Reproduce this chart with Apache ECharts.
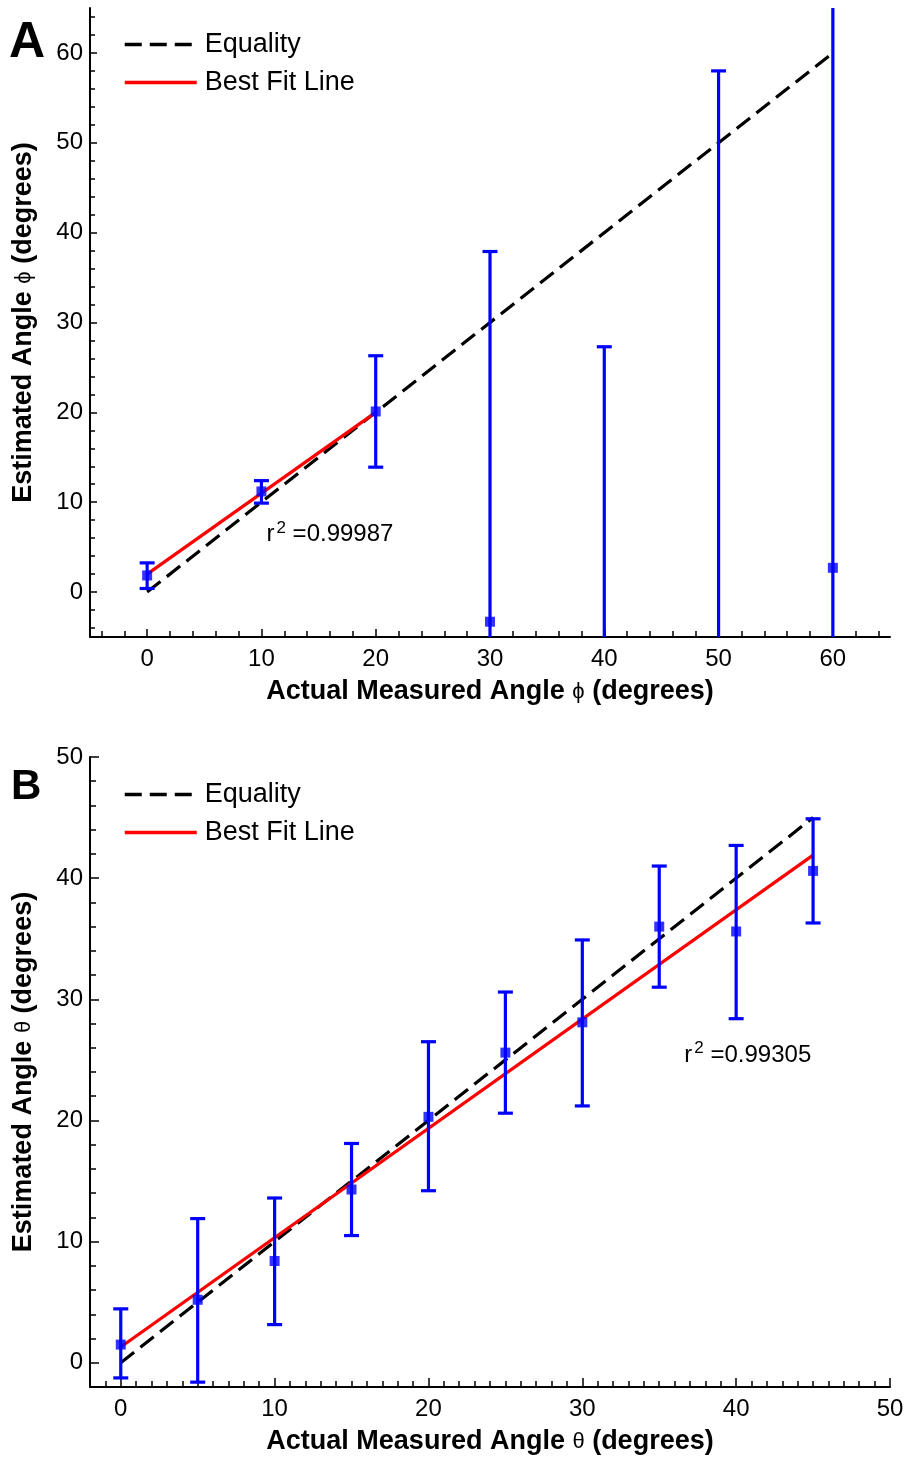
<!DOCTYPE html>
<html>
<head>
<meta charset="utf-8">
<script src="https://cdn.jsdelivr.net/npm/echarts@6/dist/echarts.min.js"></script>
<style>
  html, body { margin: 0; padding: 0; background: #fff; }
  #chart { width: 910px; height: 1461px; }
</style>
</head>
<body>
<div id="chart"></div>
<script>
// ---------- Panel A data (phi) ----------
const phiActual = [0, 10, 20, 30, 40, 50, 60];
const phiMean   = [1.85, 11.2, 20.1, -3.3, -20, -10, 2.7];
const phiUpper  = [3.25, 12.4, 26.3, 37.9, 27.3, 58, 80];
const phiLower  = [0.4, 9.9, 13.9, -44.5, -67, -78, -75];
const phiEquality = [[0, 0], [60, 60]];
const phiFit      = [[0, 2.0], [20, 20.0]];
const phiR2Text = '0.99987';
const phiR2Pos  = [10.4, 6.4];

// ---------- Panel B data (theta) ----------
const thetaActual = [0, 5, 10, 15, 20, 25, 30, 35, 40, 45];
const thetaMean   = [1.5, 5.2, 8.4, 14.3, 20.3, 25.6, 28.1, 36.0, 35.6, 40.6];
const thetaUpper  = [4.45, 11.9, 13.6, 18.1, 26.5, 30.6, 34.9, 41.0, 42.7, 44.9];
const thetaLower  = [-1.25, -1.6, 3.15, 10.5, 14.2, 20.6, 21.2, 31.0, 28.4, 36.3];
const thetaEquality = [[0, 0], [45, 45]];
const thetaFit      = [[0, 1.3], [45, 41.9]];
const thetaR2Text = '0.99305';
const thetaR2Pos  = [36.6, 25.4];

// ---------- Axis ranges & ticks ----------
const aRange = { min: -5, max: 65 };
const aMajor = [0, 10, 20, 30, 40, 50, 60];
const aMinor = [-4, -2, 2, 4, 6, 8, 12, 14, 16, 18, 22, 24, 26, 28, 32, 34, 36, 38, 42, 44, 46, 48, 52, 54, 56, 58, 62, 64];

const bxRange = { min: -2, max: 50 };
const bxMajor = [0, 10, 20, 30, 40, 50];
const bxMinor = [-1, 1, 2, 3, 4, 5, 6, 7, 8, 9, 11, 12, 13, 14, 15, 16, 17, 18, 19, 21, 22, 23, 24, 25, 26, 27, 28, 29,
                 31, 32, 33, 34, 35, 36, 37, 38, 39, 41, 42, 43, 44, 45, 46, 47, 48, 49];
const byRange = { min: -2, max: 50 };
const byMajor = [0, 10, 20, 30, 40, 50];
const byMinor = [2, 4, 6, 8, 12, 14, 16, 18, 22, 24, 26, 28, 32, 34, 36, 38, 42, 44, 46, 48];

const FONT = '"Liberation Sans", Arial, Helvetica, sans-serif';
const BLUE = '#0000ff';
const DASH = [17, 8];

function zip3(a, b, c) { return a.map((v, i) => [v, b[i], c[i]]); }
function zip2(a, b) { return a.map((v, i) => [v, b[i]]); }

function makeErrorRender(yr) {
  return function (params, api) {
    const x = api.value(0);
    const lo = api.value(1), hi = api.value(2);
    const loC = Math.max(lo, yr.min), hiC = Math.min(hi, yr.max);
    const pTop = api.coord([x, hiC]);
    const pBot = api.coord([x, loC]);
    const style = { stroke: BLUE, lineWidth: 3.2 };
    const hw = 7.5;
    const children = [{ type: 'line', shape: { x1: pTop[0], y1: pTop[1], x2: pBot[0], y2: pBot[1] }, style }];
    if (hi <= yr.max) children.push({ type: 'line', shape: { x1: pTop[0] - hw, y1: pTop[1], x2: pTop[0] + hw, y2: pTop[1] }, style });
    if (lo >= yr.min) children.push({ type: 'line', shape: { x1: pBot[0] - hw, y1: pBot[1], x2: pBot[0] + hw, y2: pBot[1] }, style });
    return { type: 'group', children };
  };
}

const nameStyle = {
  color: '#000', fontSize: 27, fontWeight: 'bold', fontFamily: FONT,
  rich: { p: { fontSize: 22, fontWeight: 'normal', fontFamily: FONT, color: '#000' } }
};

function mainXAxis(gridIndex, range, major, name, tickLen) {
  return {
    type: 'value', gridIndex, min: range.min, max: range.max, position: 'bottom',
    axisLine: { show: true, onZero: false, lineStyle: { color: '#000', width: 2 } },
    axisTick: { show: true, inside: true, length: tickLen, customValues: major, lineStyle: { color: '#000', width: 1.5 } },
    axisLabel: { show: true, customValues: major, margin: 10, color: '#000', fontSize: 24, fontFamily: FONT },
    splitLine: { show: false },
    name, nameLocation: 'middle', nameGap: 41,
    nameTextStyle: nameStyle
  };
}
function minorXAxis(gridIndex, range, minor, tickLen) {
  return {
    type: 'value', gridIndex, min: range.min, max: range.max, position: 'bottom',
    axisLine: { show: false, onZero: false },
    axisTick: { show: true, inside: true, length: tickLen, customValues: minor, lineStyle: { color: '#000', width: 1.5 } },
    axisLabel: { show: false },
    splitLine: { show: false }
  };
}
function mainYAxis(gridIndex, range, major, name, tickLen) {
  return {
    type: 'value', gridIndex, min: range.min, max: range.max, position: 'left',
    axisLine: { show: true, onZero: false, lineStyle: { color: '#000', width: 2 } },
    axisTick: { show: true, inside: true, length: tickLen, customValues: major, lineStyle: { color: '#000', width: 1.5 } },
    axisLabel: { show: true, customValues: major, margin: 7, color: '#000', fontSize: 24, fontFamily: FONT },
    splitLine: { show: false },
    name, nameLocation: 'middle', nameGap: 53,
    nameTextStyle: nameStyle
  };
}
function minorYAxis(gridIndex, range, minor, tickLen) {
  return {
    type: 'value', gridIndex, min: range.min, max: range.max, position: 'left',
    axisLine: { show: false, onZero: false },
    axisTick: { show: true, inside: true, length: tickLen, customValues: minor, lineStyle: { color: '#000', width: 1.5 } },
    axisLabel: { show: false },
    splitLine: { show: false }
  };
}

function r2Series(xi, yi, pos, txt) {
  return {
    type: 'scatter', xAxisIndex: xi, yAxisIndex: yi, data: [pos], symbolSize: 1,
    itemStyle: { color: '#ffffff', opacity: 0 }, silent: true,
    label: {
      show: true, position: 'right', distance: 0, color: '#000', opacity: 1,
      formatter: '{a|r}{s|2}{a| =' + txt + '}',
      rich: {
        a: { fontSize: 24, fontFamily: FONT, color: '#000', lineHeight: 30 },
        s: { fontSize: 17, fontFamily: FONT, color: '#000', verticalAlign: 'top', lineHeight: 16, padding: [0, 0, 0, 2] }
      }
    }
  };
}

function legendCfg(top) {
  return {
    data: ['Equality', 'Best Fit Line'], orient: 'vertical', left: 123, top, padding: 0,
    itemWidth: 72, itemHeight: 14, itemGap: 11, selectedMode: false,
    itemStyle: { opacity: 0, borderWidth: 0 },
    lineStyle: { width: 3.5 },
    textStyle: { fontSize: 27, fontFamily: FONT, color: '#000', padding: [0, 0, 0, 3] }
  };
}

const chart = echarts.init(document.getElementById('chart'), null, { renderer: 'canvas' });

const option = {
  backgroundColor: '#fff',
  animation: false,
  title: [
    { text: 'A', left: 9, top: 18, padding: 0, textStyle: { fontSize: 50, fontWeight: 'bold', fontFamily: FONT, color: '#000' } },
    { text: 'B', left: 11, top: 766, padding: 0, textStyle: { fontSize: 42, fontWeight: 'bold', fontFamily: FONT, color: '#000' } }
  ],
  legend: [legendCfg(31), legendCfg(781)],
  grid: [
    { left: 90, top: 8, width: 800, height: 629 },
    { left: 90, top: 757, width: 800, height: 630 }
  ],
  xAxis: [
    mainXAxis(0, aRange, aMajor, 'Actual Measured Angle {p|ϕ} (degrees)', 8),
    minorXAxis(0, aRange, aMinor, 6),
    mainXAxis(1, bxRange, bxMajor, 'Actual Measured Angle {p|θ} (degrees)', 9),
    minorXAxis(1, bxRange, bxMinor, 6)
  ],
  yAxis: [
    mainYAxis(0, aRange, aMajor, 'Estimated Angle {p|ϕ} (degrees)', 7),
    minorYAxis(0, aRange, aMinor, 5),
    mainYAxis(1, byRange, byMajor, 'Estimated Angle {p|θ} (degrees)', 9),
    minorYAxis(1, byRange, byMinor, 6)
  ],
  series: [
    // Panel A
    { name: 'Equality', type: 'line', xAxisIndex: 0, yAxisIndex: 0, data: phiEquality, symbol: 'none',
      lineStyle: { color: '#000', width: 3.2, type: DASH }, itemStyle: { color: '#000' }, z: 2 },
    { name: 'Best Fit Line', type: 'line', xAxisIndex: 0, yAxisIndex: 0, data: phiFit, symbol: 'none',
      lineStyle: { color: '#ff0000', width: 3.2 }, itemStyle: { color: '#ff0000' }, z: 3 },
    { type: 'custom', xAxisIndex: 0, yAxisIndex: 0, data: zip3(phiActual, phiLower, phiUpper),
      renderItem: makeErrorRender(aRange), clip: true, z: 4, silent: true },
    { type: 'scatter', xAxisIndex: 0, yAxisIndex: 0, data: zip2(phiActual, phiMean), symbol: 'rect',
      symbolSize: 10, itemStyle: { color: BLUE }, z: 5, clip: true },
    r2Series(0, 0, phiR2Pos, phiR2Text),
    // Panel B
    { name: 'Equality', type: 'line', xAxisIndex: 2, yAxisIndex: 2, data: thetaEquality, symbol: 'none',
      lineStyle: { color: '#000', width: 3.2, type: DASH }, itemStyle: { color: '#000' }, z: 2 },
    { name: 'Best Fit Line', type: 'line', xAxisIndex: 2, yAxisIndex: 2, data: thetaFit, symbol: 'none',
      lineStyle: { color: '#ff0000', width: 3.2 }, itemStyle: { color: '#ff0000' }, z: 3 },
    { type: 'custom', xAxisIndex: 2, yAxisIndex: 2, data: zip3(thetaActual, thetaLower, thetaUpper),
      renderItem: makeErrorRender(byRange), clip: true, z: 4, silent: true },
    { type: 'scatter', xAxisIndex: 2, yAxisIndex: 2, data: zip2(thetaActual, thetaMean), symbol: 'rect',
      symbolSize: 10, itemStyle: { color: BLUE }, z: 5, clip: true },
    r2Series(2, 2, thetaR2Pos, thetaR2Text)
  ]
};
chart.setOption(option);
</script>
</body>
</html>
